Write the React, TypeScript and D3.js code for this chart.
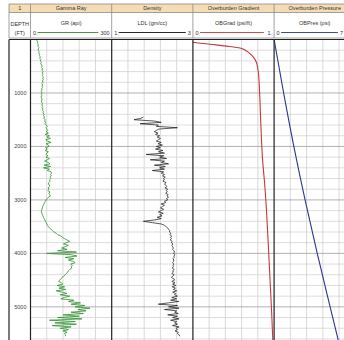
import React from "react";
import * as d3 from "d3";

const W = 344;
const H = 340;

// gamma ray samples: 0..5550 ft every 25 ft
const grStart = 0;
const grStep = 25;
const grValues = [
  22, 24, 27, 25, 29, 27, 31, 29, 28, 32, 30, 34, 33, 36, 34, 38, 36, 40, 38, 41,
  43, 41, 45, 42, 47, 44, 46, 43, 48, 45, 47, 44, 46, 42, 45, 43, 44, 41, 42, 40,
  43, 40, 42, 39, 41, 43, 40, 42, 44, 42, 45, 43, 46, 44, 48, 46, 50, 48, 52, 49,
  55, 52, 56, 53, 58, 62, 57, 60, 64, 58, 66, 54, 70, 60, 74, 56, 62, 76, 58, 66,
  68, 56, 62, 54, 66, 60, 58, 64, 57, 70, 62, 52, 66, 72, 50, 74, 48, 70, 62, 76,
  78, 74, 77, 72, 75, 70, 72, 68, 66, 70, 71, 65, 68, 64, 72, 68, 70, 74, 66, 62,
  58, 55, 52, 50, 47, 45, 44, 42, 41, 40, 42, 44, 46, 48, 50, 53, 55, 58, 60, 63,
  66, 70, 76, 82, 86, 95, 100, 112, 118, 126, 135, 145, 132, 122, 140, 128, 115, 135, 100, 170,
  60, 150, 172, 128, 160, 140, 158, 165, 148, 155, 150, 152, 145, 140, 138, 132, 128, 122, 118, 112,
  108, 104, 115, 120, 98, 126, 105, 130, 95, 118, 135, 110, 145, 125, 112, 160, 140, 185, 150, 200,
  165, 220, 175, 205, 150, 195, 120, 180, 100, 190, 70, 165, 90, 170, 80, 150, 110, 140, 120, 135,
  125, 130, 128,
];

// bulk density samples: 1450..5550 ft every 25 ft
const denStart = 1450;
const denStep = 25;
const denValues = [
  1.78, 1.72, 1.55, 2.05, 2.22, 1.7, 2.15, 2.1, 2.62, 2.16, 2.1, 2.05, 2.14, 2.08, 2.18, 2.12, 2.2, 2.15, 2.1, 2.22,
  2.14, 2.25, 2.1, 2.2, 2.08, 2.26, 2.15, 2.3, 1.85, 2.28, 2.18, 2.35, 1.95, 2.3, 2.22, 2.4, 2.05, 2.32, 2.18, 2.3,
  2.0, 2.28, 2.22, 2.3, 2.25, 2.32, 2.27, 2.3, 2.26, 2.34, 2.3, 2.33, 2.36, 2.31, 2.38, 2.34, 2.37, 2.33, 2.39, 2.36,
  2.4, 2.35, 2.38, 2.3, 2.33, 2.22, 2.3, 2.25, 2.2, 2.28, 2.22, 2.15, 2.27, 2.18, 2.24, 2.12, 2.22, 2.05, 1.78, 2.0,
  2.22, 2.3, 2.34, 2.38, 2.4, 2.43, 2.42, 2.46, 2.43, 2.48, 2.45, 2.47, 2.44, 2.49, 2.47, 2.51, 2.48, 2.5, 2.52, 2.5,
  2.53, 2.55, 2.52, 2.56, 2.53, 2.54, 2.51, 2.53, 2.52, 2.5, 2.53, 2.51, 2.52, 2.49, 2.54, 2.5, 2.52, 2.48, 2.54, 2.5,
  2.47, 2.53, 2.55, 2.48, 2.56, 2.5, 2.58, 2.49, 2.57, 2.52, 2.6, 2.5, 2.58, 2.55, 2.62, 2.48, 2.6, 2.45, 2.65, 2.4,
  2.15, 2.62, 2.4, 2.66, 2.3, 2.6, 2.55, 2.64, 2.38, 2.62, 2.5, 2.66, 2.45, 2.6, 2.55, 2.62, 2.5, 2.66, 2.58, 2.62,
  2.56, 2.64, 2.62, 2.66, 2.68,
];

const gradDepths = [50, 75, 100, 130, 160, 215, 260, 330, 440, 630, 950, 1560, 2200, 2800, 3880, 4500, 5110, 5650];
const gradValues = [0.0, 0.12, 0.28, 0.45, 0.58, 0.66, 0.7, 0.745, 0.785, 0.807, 0.82, 0.836, 0.856, 0.889, 0.93, 0.95, 0.97, 0.985];

const presDepths = [0, 1000, 2000, 3000, 4000, 5000, 5650];
const presValues = [0, 820, 1700, 2670, 3720, 4830, 5560];

const depthTicks = [1000, 2000, 3000, 4000, 5000];

const trackTitles = ["Gamma Ray", "Density", "Overburden Gradient", "Overburden Pressure"];
const curveNames = ["GR (api)", "LDL (gm/cc)", "OBGrad (psi/ft)", "OBPres (psi)"];
const scaleLeft = ["0.", "1.", "0", "0"];
const scaleRight = ["300", "3", "1.", "7"];
const domains: [number, number][] = [[0, 300], [1, 3], [0, 1], [0, 7000]];
const colors = ["#2f8f2f", "#111111", "#c8383a", "#2b3592"];

const frameLeft = 9;
const depthColRight = 30.5;
const trackW = 81.2;
const headerTop = 4;
const row1Bottom = 12.5;
const row2Bottom = 38;
const plotTop = 39.5;

const font = "Liberation Sans, Arial, sans-serif";

export default function App() {
  const y = d3.scaleLinear().domain([0, 5620]).range([plotTop, H]);
  const trackX = (i: number) => depthColRight + i * trackW;
  const xs = domains.map((dm, i) =>
    d3.scaleLinear().domain(dm).range([trackX(i), trackX(i) + trackW])
  );

  const grPts: [number, number][] = grValues.map((v, i) => [v, grStart + i * grStep]);
  const denPts: [number, number][] = denValues.map((v, i) => [v, denStart + i * denStep]);
  const gradPts: [number, number][] = gradValues.map((v, i) => [v, gradDepths[i]]);
  const presPts: [number, number][] = presValues.map((v, i) => [v, presDepths[i]]);

  const mkLine = (i: number, curve = d3.curveLinear) =>
    d3
      .line<[number, number]>()
      .x((d) => xs[i](d[0]))
      .y((d) => y(d[1]))
      .curve(curve);

  const minorDepths = d3.range(200, 5620, 200).filter((d) => d % 1000 !== 0);

  // right scale label sits at the track edge, the last one at the picture edge
  const rightX = (i: number) => Math.min(trackX(i) + trackW - 2, W - 1);

  return (
    <svg
      width={W}
      height={H}
      style={{ position: "absolute", left: 0, top: 0, display: "block", background: "#fff" }}
      fontFamily={font}
    >
      {/* header */}
      <rect x={frameLeft} y={headerTop} width={W} height={row1Bottom - headerTop} fill="#f5dcb4" />
      <g stroke="#8a8a8a" strokeWidth={0.8} fill="none">
        <line x1={frameLeft} x2={W} y1={headerTop} y2={headerTop} />
        <line x1={frameLeft} x2={W} y1={row1Bottom} y2={row1Bottom} />
        <line x1={frameLeft} x2={W} y1={row2Bottom} y2={row2Bottom} />
        <line x1={frameLeft} x2={frameLeft} y1={headerTop} y2={row2Bottom} />
        {[0, 1, 2, 3].map((i) => (
          <line key={i} x1={trackX(i)} x2={trackX(i)} y1={headerTop} y2={row2Bottom} />
        ))}
      </g>
      <g fontSize={5.5} fill="#333" textAnchor="middle">
        <text x={(frameLeft + depthColRight) / 2} y={10.4}>1</text>
        <text x={(frameLeft + depthColRight) / 2} y={26}>DEPTH</text>
        <text x={(frameLeft + depthColRight) / 2} y={35}>(FT)</text>
        {trackTitles.map((t, i) => (
          <text key={t} x={trackX(i) + trackW / 2} y={10.4}>{t}</text>
        ))}
        {curveNames.map((t, i) => (
          <text key={t} x={trackX(i) + trackW / 2} y={25}>{t}</text>
        ))}
      </g>
      <g fontSize={5.5} fill="#333">
        {scaleLeft.map((t, i) => (
          <text key={"l" + i} x={trackX(i) + 2.5} y={34.5}>{t}</text>
        ))}
        {scaleRight.map((t, i) => (
          <text key={"r" + i} x={rightX(i)} y={34.5} textAnchor="end">{t}</text>
        ))}
      </g>
      {colors.map((c, i) => (
        <line
          key={"sl" + i}
          x1={trackX(i) + 7}
          x2={rightX(i) - 2 - 3.1 * scaleRight[i].length}
          y1={32.5}
          y2={32.5}
          stroke={c}
          strokeWidth={0.9}
        />
      ))}

      {/* grid */}
      <g>
        {[0, 1, 2, 3].map((i) =>
          d3.range(1, 5).map((k) => (
            <line
              key={`v${i}-${k}`}
              x1={trackX(i) + (k * trackW) / 5}
              x2={trackX(i) + (k * trackW) / 5}
              y1={plotTop}
              y2={H}
              stroke="#cfcfcf"
              strokeWidth={0.8}
            />
          ))
        )}
        {minorDepths.map((d) => (
          <line key={"h" + d} x1={depthColRight} x2={W} y1={y(d)} y2={y(d)} stroke="#d4d4d4" strokeWidth={0.8} />
        ))}
        {depthTicks.map((d) => (
          <line key={"H" + d} x1={depthColRight} x2={W} y1={y(d)} y2={y(d)} stroke="#a8a8a8" strokeWidth={0.9} />
        ))}
      </g>

      {/* depth labels */}
      <g fontSize={5.5} fill="#444" textAnchor="end">
        {depthTicks.map((d) => (
          <text key={d} x={26.5} y={y(d) + 2}>{d}</text>
        ))}
      </g>

      {/* curves */}
      <path d={mkLine(0)(grPts) ?? ""} fill="none" stroke={colors[0]} strokeWidth={0.8} />
      <path d={mkLine(1)(denPts) ?? ""} fill="none" stroke={colors[1]} strokeWidth={0.7} />
      <path d={mkLine(2, d3.curveMonotoneY)(gradPts) ?? ""} fill="none" stroke={colors[2]} strokeWidth={1.1} />
      <path d={mkLine(3, d3.curveMonotoneY)(presPts) ?? ""} fill="none" stroke={colors[3]} strokeWidth={1.1} />

      {/* track borders */}
      <g stroke="#222" strokeWidth={1.2}>
        <line x1={frameLeft} x2={W} y1={plotTop} y2={plotTop} />
        <line x1={frameLeft} x2={frameLeft} y1={plotTop} y2={H} />
        {[0, 1, 2, 3].map((i) => (
          <line key={i} x1={trackX(i)} x2={trackX(i)} y1={plotTop} y2={H} />
        ))}
      </g>
    </svg>
  );
}
